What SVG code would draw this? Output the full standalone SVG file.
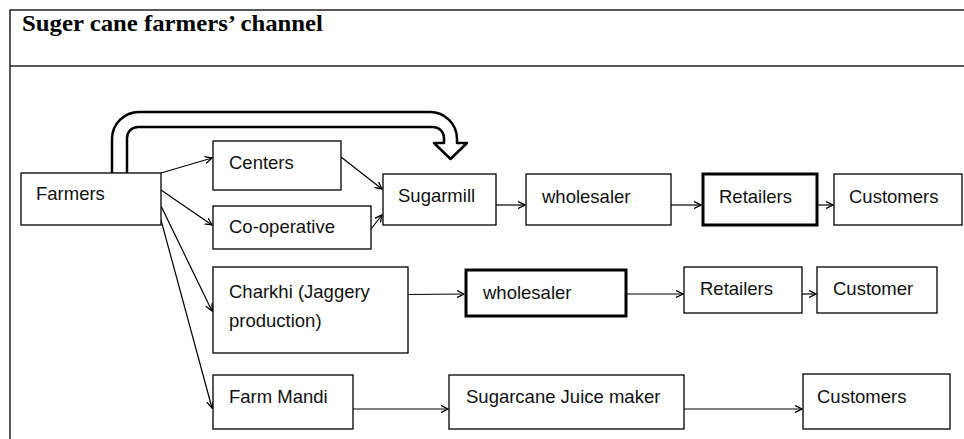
<svg xmlns="http://www.w3.org/2000/svg" width="964" height="439" viewBox="0 0 964 439">
<style>
.box{fill:#fff;stroke:#000;stroke-width:1.3}
.thick{fill:#fff;stroke:#000;stroke-width:3}
.t{font-family:"Liberation Sans",Arial,sans-serif;font-size:18.5px;fill:#111}
.c{fill:none;stroke:#000;stroke-width:1.2;marker-end:url(#ah)}
.frame{fill:none;stroke:#222;stroke-width:1.5}
</style>
<defs>
<marker id="ah" markerWidth="8" markerHeight="8" refX="7" refY="4" orient="auto" markerUnits="userSpaceOnUse">
<path d="M0,0.5 L7,4 L0,7.5" fill="none" stroke="#000" stroke-width="1.3"/>
</marker>
</defs>
<rect width="964" height="439" fill="#fff"/>
<g id="frame">
<path class="frame" d="M10,439 V10 H964 M10,66 H964"/>
<text x="22" y="31" font-family="'Liberation Serif','Times New Roman',serif" font-weight="bold" font-size="24" textLength="301" lengthAdjust="spacingAndGlyphs" fill="#000">Suger cane farmers’ channel</text>
</g>
<g id="connectors">
<path d="M112,174 V139 A27,27 0 0 1 139,112 H430 A27,27 0 0 1 457,139 V143 H467 L450.5,159 L434,143 H444 V138 A11,11 0 0 0 433,127 H138 A11,11 0 0 0 127,138 V174 Z" fill="#fff" stroke="#000" stroke-width="2.5" stroke-linejoin="round"/>
<line class="c" x1="161" y1="173" x2="212" y2="158"/>
<line class="c" x1="161" y1="190" x2="212" y2="225"/>
<line class="c" x1="161" y1="206" x2="212" y2="311"/>
<line class="c" x1="161" y1="220" x2="212" y2="408"/>
<line class="c" x1="341" y1="157" x2="382" y2="189"/>
<line class="c" x1="371" y1="229" x2="382" y2="215"/>
<line class="c" x1="496" y1="205" x2="525" y2="205"/>
<line class="c" x1="671" y1="205" x2="701" y2="205"/>
<line class="c" x1="818" y1="205" x2="833" y2="205"/>
<line class="c" x1="408" y1="294.5" x2="464" y2="294"/>
<line class="c" x1="627" y1="294" x2="683" y2="294"/>
<line class="c" x1="802" y1="294" x2="816" y2="294"/>
<line class="c" x1="353" y1="409" x2="448" y2="409"/>
<line class="c" x1="684" y1="409" x2="802" y2="409"/>
</g>
<g id="farmers"><rect class="box" x="21" y="173" width="140" height="52"/><text class="t" x="36" y="200">Farmers</text></g>
<g id="centers"><rect class="box" x="213" y="141" width="128" height="49"/><text class="t" x="229" y="169">Centers</text></g>
<g id="cooperative"><rect class="box" x="213" y="206" width="158" height="43"/><text class="t" x="229" y="233">Co-operative</text></g>
<g id="sugarmill"><rect class="box" x="383" y="174" width="113" height="51"/><text class="t" x="398" y="202">Sugarmill</text></g>
<g id="wholesaler1"><rect class="box" x="526" y="174" width="145" height="51"/><text class="t" x="542" y="203">wholesaler</text></g>
<g id="retailers1"><rect class="thick" x="703" y="174" width="114" height="51"/><text class="t" x="719" y="203">Retailers</text></g>
<g id="customers1"><rect class="box" x="834" y="174" width="128" height="51"/><text class="t" x="849" y="203">Customers</text></g>
<g id="charkhi"><rect class="box" x="213" y="267" width="195" height="86"/><text class="t" x="229" y="298">Charkhi (Jaggery</text><text class="t" x="229" y="327">production)</text></g>
<g id="wholesaler2"><rect class="thick" x="466" y="270" width="160" height="46"/><text class="t" x="483" y="299">wholesaler</text></g>
<g id="retailers2"><rect class="box" x="684" y="267" width="118" height="46"/><text class="t" x="700" y="295">Retailers</text></g>
<g id="customer2"><rect class="box" x="817" y="267" width="120" height="46"/><text class="t" x="833" y="295">Customer</text></g>
<g id="farmmandi"><rect class="box" x="213" y="375" width="140" height="54"/><text class="t" x="229" y="403">Farm Mandi</text></g>
<g id="juicemaker"><rect class="box" x="449" y="375" width="235" height="54"/><text class="t" x="466" y="403">Sugarcane Juice maker</text></g>
<g id="customers3"><rect class="box" x="803" y="374" width="147" height="55"/><text class="t" x="817" y="403">Customers</text></g>
</svg>
